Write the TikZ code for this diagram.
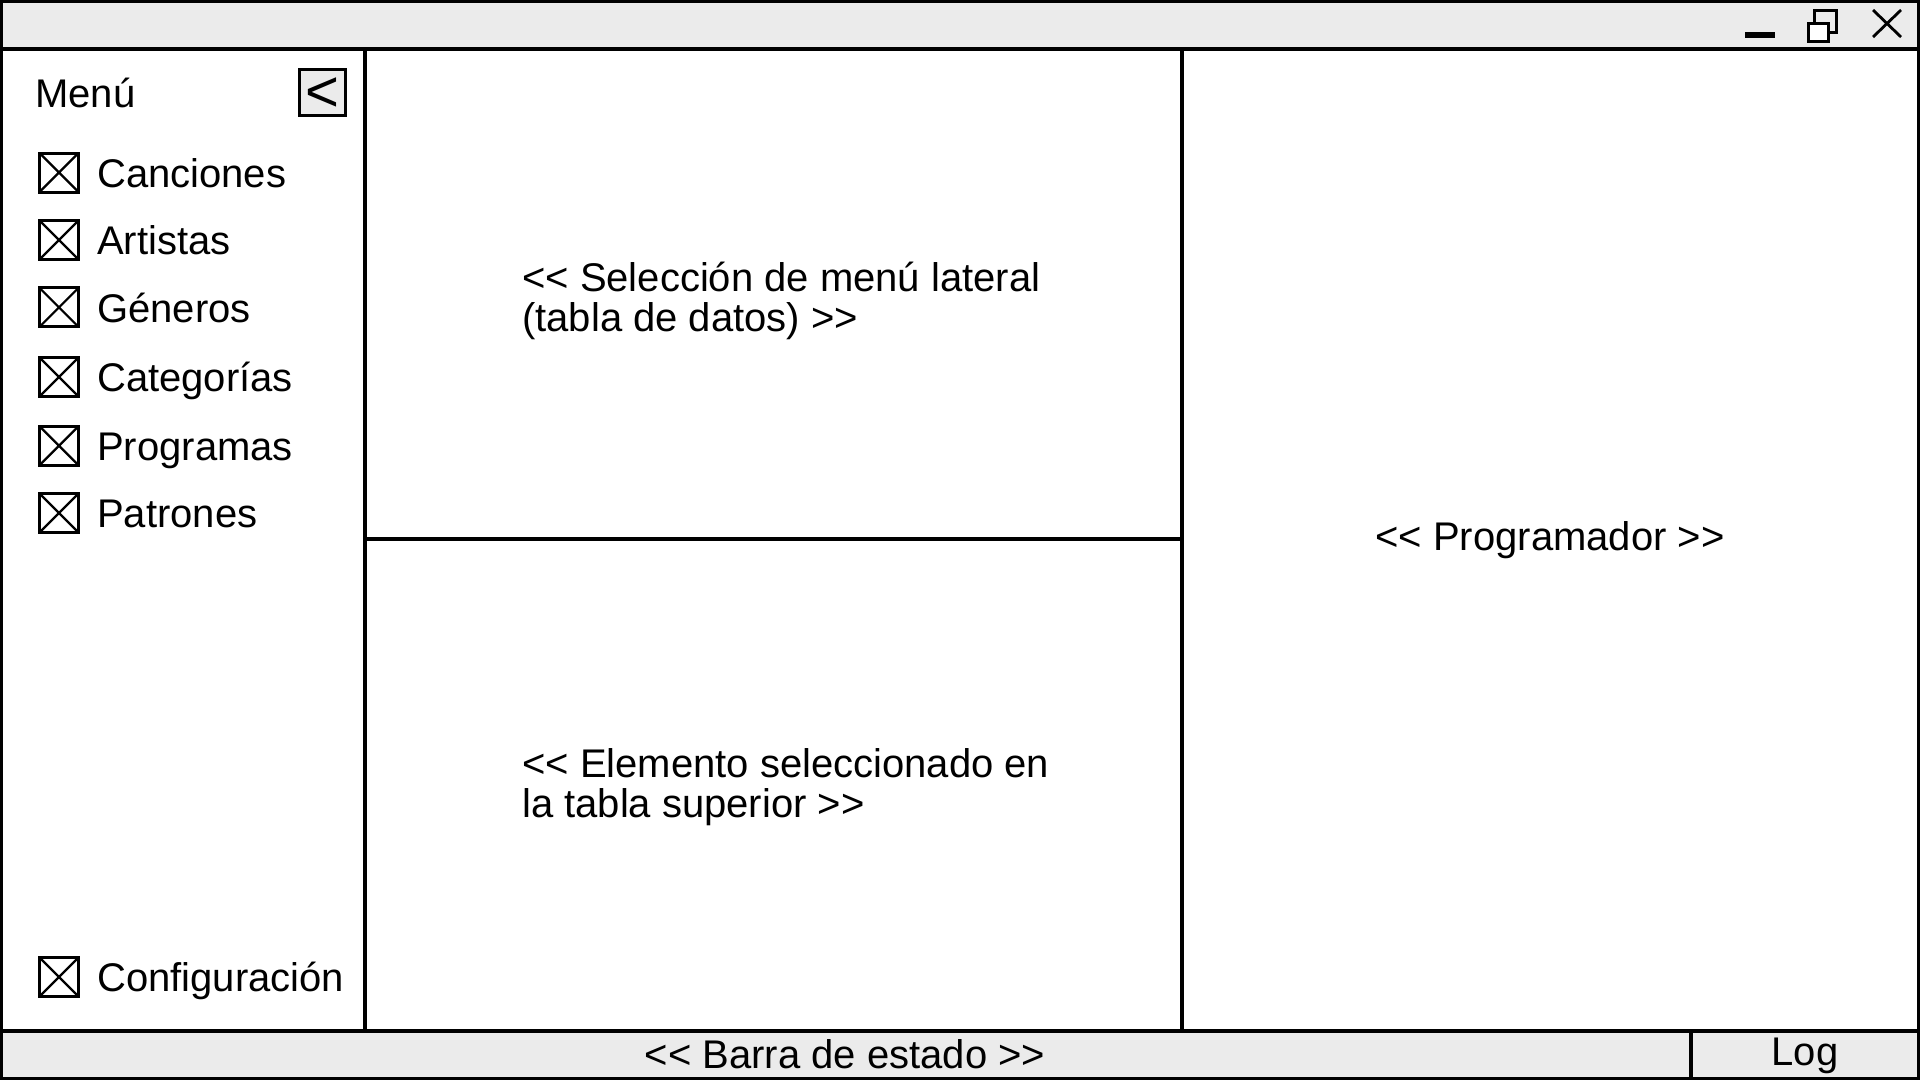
\documentclass[tikz,border=0pt]{standalone}
\usepackage{fontspec}
\setmainfont{Liberation Sans}
\definecolor{barfill}{HTML}{EBEBEB}
\newcommand\dlt{<\kern0pt<}
\newcommand\dgt{>\kern0pt>}
\begin{document}
\begin{tikzpicture}[x=1pt,y=-1pt,
  frame/.style={line width=3.2pt},
  txt/.style={font=\fontsize{40}{40}\selectfont, inner sep=0pt, anchor=base west},
  ctxt/.style={font=\fontsize{40}{40}\selectfont, inner sep=0pt, anchor=base},
  chk/.style={draw, line width=3pt, minimum width=39pt, minimum height=39pt, inner sep=0pt,
    path picture={\draw[line width=2.2pt] (path picture bounding box.north west) -- (path picture bounding box.south east)
      (path picture bounding box.north east) -- (path picture bounding box.south west);}}]
\useasboundingbox (0,0) rectangle (1920,1080);
% bars
\fill[barfill] (0,0) rectangle (1920,49);
\fill[barfill] (0,1031) rectangle (1920,1080);
\draw[frame] (1.6,1.6) rectangle (1918.4,1078.4);
\draw[frame] (0,49) -- (1920,49);
\draw[frame] (0,1031) -- (1920,1031);
\draw[frame] (365,49) -- (365,1031);
\draw[frame] (1182,49) -- (1182,1031);
\draw[frame] (365,539) -- (1182,539);
\draw[frame] (1691,1031) -- (1691,1080);
% window controls
\draw[line width=6pt] (1745,35) -- (1775,35);
\draw[line width=3pt] (1814.5,10.5) rectangle (1836.5,32.5);
\filldraw[fill=white, line width=3pt] (1808.5,23.5) rectangle (1828.5,41.5);
\draw[line width=2.8pt] (1873,10) -- (1901,37) (1901,10) -- (1873,37);
% menu header
\node[txt] (menu) at (35,107) {Menú};
\node[draw, fill=barfill, line width=3pt, minimum width=46.5pt, minimum height=46.5pt, inner sep=0pt] (btn) at (322.5,92.5) {};
\node[font=\fontsize{58}{58}\selectfont, inner sep=0pt, anchor=base] (btnlbl) at (322.5,111) {<};
% menu items
\node[chk] (b1) at (59,172.5) {};   \node[txt] (t1) at (97,187) {Canciones};
\node[chk] (b2) at (59,240) {};     \node[txt] (t2) at (97,254.5) {Artistas};
\node[chk] (b3) at (59,307.3) {};   \node[txt] (t3) at (97,322) {Géneros};
\node[chk] (b4) at (59,377) {};     \node[txt] (t4) at (97,391.5) {Categorías};
\node[chk] (b5) at (59,445.7) {};   \node[txt] (t5) at (97,460) {Programas};
\node[chk] (b6) at (59,513) {};     \node[txt] (t6) at (97,527.5) {Patrones};
\node[chk] (b7) at (59,977) {};     \node[txt] (t7) at (97,991.5) {Configuración};
% panels
\node[txt] (up1) at (522,291) {\dlt{} Selección de menú lateral};
\node[txt] (up2) at (522,331) {(tabla de datos) \dgt};
\node[txt] (lo1) at (522,777) {\dlt{} Elemento seleccionado en};
\node[txt] (lo2) at (522,817) {la tabla superior \dgt};
\node[ctxt] (prog) at (1550,550) {\dlt{} Programador \dgt};
% status bar
\node[ctxt] (status) at (845,1068) {\dlt{} Barra de estado \dgt};
\node[ctxt] (log) at (1805,1065) {Log};
\end{tikzpicture}
\end{document}
